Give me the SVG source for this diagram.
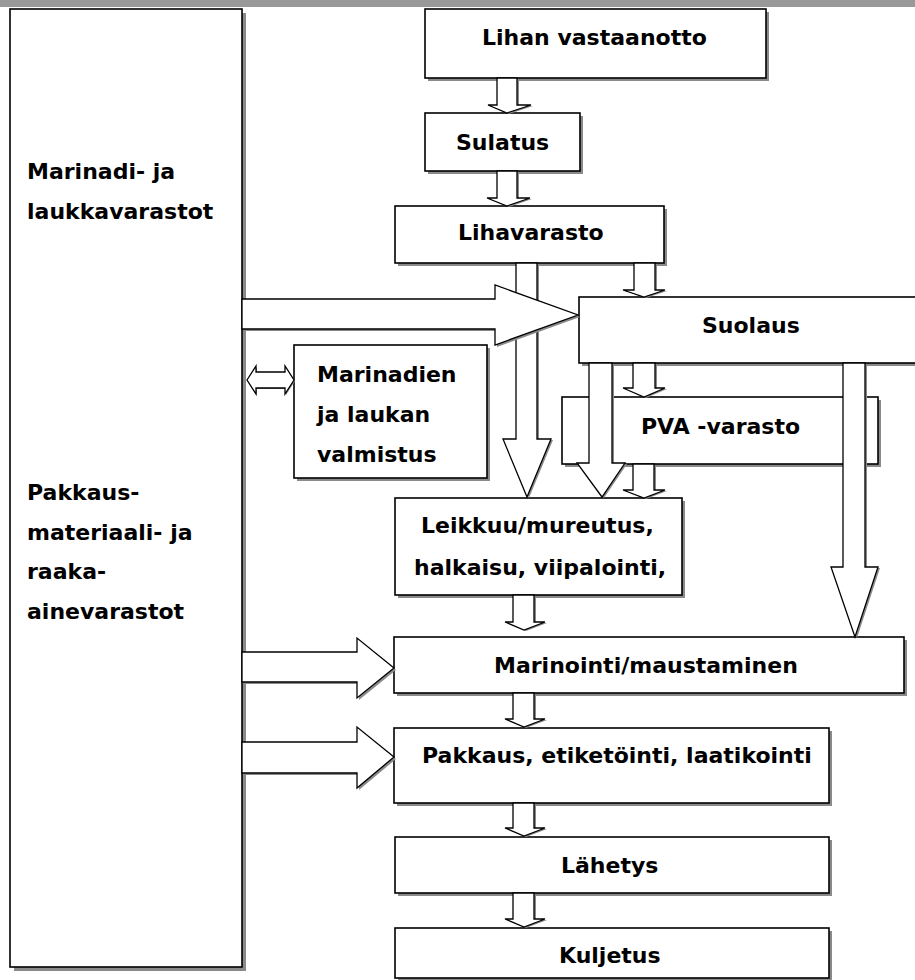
<svg xmlns="http://www.w3.org/2000/svg" width="915" height="980" viewBox="0 0 915 980">
  <style>
    .box { fill: #ffffff; stroke: #000000; stroke-width: 1.6; }
    .shadow { fill: #8a8a8a; stroke: none; }
    .arrow { fill: #ffffff; stroke: #000000; stroke-width: 1.3; stroke-linejoin: miter; }
    .ashadow { fill: #8a8a8a; stroke: none; }
    .label { font-family: "DejaVu Sans", "Liberation Sans", sans-serif; font-weight: bold; font-size: 22px; fill: #000000; }
  </style>
  <defs>
    <!-- block arrow outlines, reused with a gray offset copy as shadow -->
    <polygon id="a-lihan" points="497,78 517,78 517,105 531,105 507,113 488,105 497,105"/>
    <polygon id="a-sulatus" points="497,171 517,171 517,198 530,198 507,206 487,198 497,198"/>
    <polygon id="a-liha-leik" points="516,263 537,263 537,439 551,439 527,497 503,439 516,439"/>
    <polygon id="a-liha-suol" points="634,263 655,263 655,290 665,290 644,297 623,290 634,290"/>
    <polygon id="a-store-suol" points="242,299 495,299 495,285 578,315 495,345 495,329 242,329"/>
    <polygon id="a-suol-pva" points="633,363 655,363 655,388 665,388 644,397 623,388 633,388"/>
    <polygon id="a-suol-leik" points="589,363 612,363 612,463 625,463 602,497 577,463 589,463"/>
    <polygon id="a-suol-mar" points="843,363 865,363 865,567 878,567 855,637 831,567 843,567"/>
    <polygon id="a-pva-leik" points="633,464 654,464 654,490 665,490 644,498 623,490 633,490"/>
    <polygon id="a-leik-mar" points="513,595 534,595 534,622 545,622 524,630 505,622 513,622"/>
    <polygon id="a-store-mar" points="242,652 357,652 357,638 394,668 357,698 357,682 242,682"/>
    <polygon id="a-mar-pak" points="513,693 534,693 534,719 545,719 524,727 505,719 513,719"/>
    <polygon id="a-store-pak" points="242,742 357,742 357,727 394,757 357,788 357,773 242,773"/>
    <polygon id="a-pak-lah" points="513,803 534,803 534,828 545,828 524,836 505,828 513,828"/>
    <polygon id="a-lah-kul" points="513,893 534,893 534,919 545,919 524,927 505,919 513,919"/>
    <polygon id="a-store-mvalm" points="247,380 256,366 256,372 285,372 285,366 294,380 285,394 285,388 256,388 256,394"/>
  </defs>

  <!-- top band -->
  <rect x="0" y="0" width="915" height="7" fill="#999999"/>

  <!-- storage column -->
  <g id="varastot">
    <rect class="shadow" x="14" y="13" width="232" height="958"/>
    <rect class="box" x="10" y="9" width="232" height="958" stroke-width="2.2"/>
    <text class="label" x="27" y="179">Marinadi- ja</text>
    <text class="label" x="27" y="219">laukkavarastot</text>
    <text class="label" x="27" y="500">Pakkaus-</text>
    <text class="label" x="27" y="540">materiaali- ja</text>
    <text class="label" x="27" y="579">raaka-</text>
    <text class="label" x="27" y="619">ainevarastot</text>
  </g>

  <g id="lihan-vastaanotto">
    <rect class="shadow" x="428" y="12" width="341" height="69"/>
    <rect class="box" x="425" y="9" width="341" height="69"/>
    <text class="label" x="482" y="45">Lihan vastaanotto</text>
  </g>

  <g id="sulatus">
    <rect class="shadow" x="428" y="116" width="155" height="58"/>
    <rect class="box" x="425" y="113" width="155" height="58"/>
    <text class="label" x="456" y="150">Sulatus</text>
  </g>

  <g id="lihavarasto">
    <rect class="shadow" x="398" y="209" width="269" height="57"/>
    <rect class="box" x="395" y="206" width="269" height="57"/>
    <text class="label" x="458" y="240">Lihavarasto</text>
  </g>

  <g id="suolaus">
    <rect class="shadow" x="582" y="300" width="340" height="66"/>
    <rect class="box" x="579" y="297" width="340" height="66"/>
    <text class="label" x="702" y="333">Suolaus</text>
  </g>

  <g id="marinadien-valmistus">
    <rect class="shadow" x="297" y="348" width="193" height="133"/>
    <rect class="box" x="294" y="345" width="193" height="133"/>
    <text class="label" x="317" y="382">Marinadien</text>
    <text class="label" x="317" y="422">ja laukan</text>
    <text class="label" x="317" y="462">valmistus</text>
  </g>

  <g id="pva-varasto">
    <rect class="shadow" x="565" y="400" width="316" height="67"/>
    <rect class="box" x="562" y="397" width="316" height="67"/>
    <text class="label" x="641" y="434">PVA -varasto</text>
  </g>

  <g id="leikkuu">
    <rect class="shadow" x="398" y="501" width="287" height="97"/>
    <rect class="box" x="395" y="498" width="287" height="97"/>
    <text class="label" x="421" y="533">Leikkuu/mureutus,</text>
    <text class="label" x="414" y="575">halkaisu, viipalointi,</text>
  </g>

  <g id="marinointi">
    <rect class="shadow" x="397" y="640" width="510" height="56"/>
    <rect class="box" x="394" y="637" width="510" height="56"/>
    <text class="label" x="494" y="673">Marinointi/maustaminen</text>
  </g>

  <g id="pakkaus">
    <rect class="shadow" x="397" y="731" width="435" height="75"/>
    <rect class="box" x="394" y="728" width="435" height="75"/>
    <text class="label" x="422" y="763">Pakkaus, etiketöinti, laatikointi</text>
  </g>

  <g id="lahetys">
    <rect class="shadow" x="398" y="840" width="434" height="56"/>
    <rect class="box" x="395" y="837" width="434" height="56"/>
    <text class="label" x="561" y="873">Lähetys</text>
  </g>

  <g id="kuljetus">
    <rect class="shadow" x="398" y="931" width="434" height="50"/>
    <rect class="box" x="395" y="928" width="434" height="50"/>
    <text class="label" x="559" y="963">Kuljetus</text>
  </g>

  <!-- flow arrows -->
  <g id="connectors">
    <use href="#a-lihan" class="ashadow" x="2" y="1"/>
    <use href="#a-lihan" class="arrow"/>
    <use href="#a-sulatus" class="ashadow" x="2" y="1"/>
    <use href="#a-sulatus" class="arrow"/>
    <use href="#a-liha-leik" class="ashadow" x="2" y="1"/>
    <use href="#a-liha-leik" class="arrow"/>
    <use href="#a-liha-suol" class="ashadow" x="2" y="1"/>
    <use href="#a-liha-suol" class="arrow"/>
    <use href="#a-store-suol" class="ashadow" x="2" y="2"/>
    <use href="#a-store-suol" class="arrow"/>
    <use href="#a-suol-pva" class="ashadow" x="2" y="1"/>
    <use href="#a-suol-pva" class="arrow"/>
    <use href="#a-suol-leik" class="ashadow" x="2" y="1"/>
    <use href="#a-suol-leik" class="arrow"/>
    <use href="#a-suol-mar" class="ashadow" x="2" y="1"/>
    <use href="#a-suol-mar" class="arrow"/>
    <use href="#a-pva-leik" class="ashadow" x="2" y="1"/>
    <use href="#a-pva-leik" class="arrow"/>
    <use href="#a-leik-mar" class="ashadow" x="2" y="1"/>
    <use href="#a-leik-mar" class="arrow"/>
    <use href="#a-store-mar" class="ashadow" x="2" y="2"/>
    <use href="#a-store-mar" class="arrow"/>
    <use href="#a-mar-pak" class="ashadow" x="2" y="1"/>
    <use href="#a-mar-pak" class="arrow"/>
    <use href="#a-store-pak" class="ashadow" x="2" y="2"/>
    <use href="#a-store-pak" class="arrow"/>
    <use href="#a-pak-lah" class="ashadow" x="2" y="1"/>
    <use href="#a-pak-lah" class="arrow"/>
    <use href="#a-lah-kul" class="ashadow" x="2" y="1"/>
    <use href="#a-lah-kul" class="arrow"/>
    <use href="#a-store-mvalm" class="ashadow" x="1" y="1"/>
    <use href="#a-store-mvalm" class="arrow"/>
  </g>
</svg>
